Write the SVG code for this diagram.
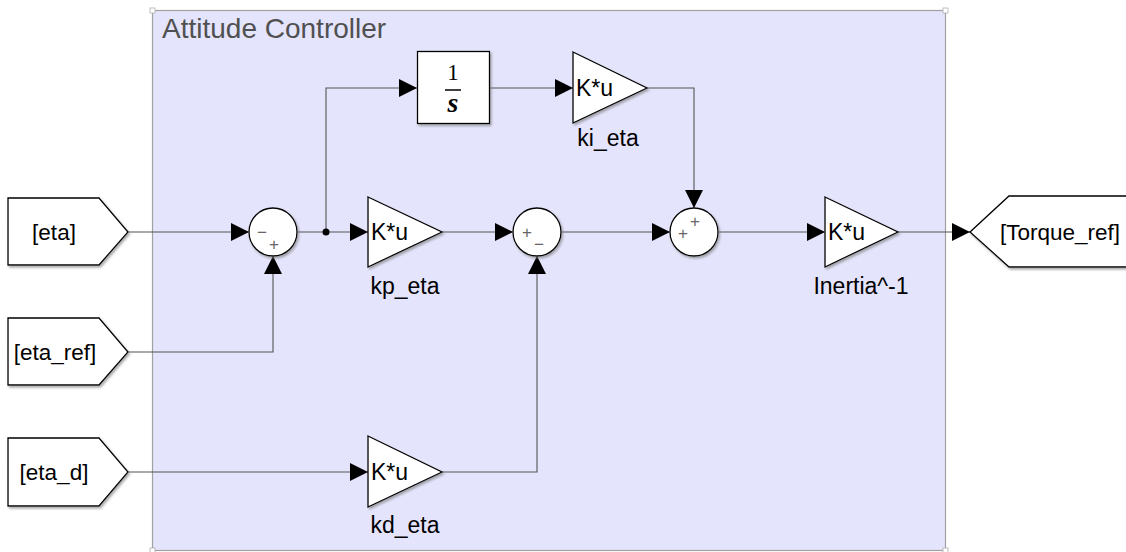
<svg xmlns="http://www.w3.org/2000/svg" width="1126" height="552" viewBox="0 0 1126 552">
<defs>
<style>
.area{fill:#E4E4FC;stroke:#A0A0A0;stroke-width:1.2}
.corner{fill:#fff;stroke:#B0B0B0;stroke-width:0.8}
.blk{fill:#fff;stroke:#000;stroke-width:1.3;filter:url(#sh)}
.wire{fill:none;stroke:#555;stroke-width:1.1;marker-end:url(#ah)}
.lbl{font-family:"Liberation Sans",Arial,sans-serif;font-size:23px;fill:#000}
.tag{font-family:"Liberation Sans",Arial,sans-serif;font-size:22.5px;fill:#000;text-anchor:middle}
.sign{font-family:"Liberation Sans",Arial,sans-serif;font-size:17px;fill:#666;text-anchor:middle}
.title{font-family:"Liberation Sans",Arial,sans-serif;font-size:28px;fill:#505050}
</style>
<filter id="sh" x="-10%" y="-10%" width="130%" height="130%">
<feDropShadow dx="1.5" dy="2" stdDeviation="1.2" flood-color="#777" flood-opacity="0.6"/>
</filter>
<marker id="ah" markerUnits="userSpaceOnUse" markerWidth="19" markerHeight="19" refX="18" refY="9" orient="auto">
<path d="M0,0 L18,9 L0,18 Z" fill="#000"/>
</marker>
</defs>

<g id="subsystem">
<rect class="area" x="152.5" y="10.5" width="793" height="540"/>
<rect class="corner" x="150" y="8" width="5" height="5"/>
<rect class="corner" x="943" y="8" width="5" height="5"/>
<rect class="corner" x="150" y="548" width="5" height="5"/>
<rect class="corner" x="943" y="548" width="5" height="5"/>
<text class="title" x="162" y="38">Attitude Controller</text>
</g>

<g id="connectors">
<path class="wire" d="M128,232 H249"/>
<path class="wire" d="M297,232 H368"/>
<path class="wire" d="M326,232 V88 H417"/>
<circle cx="326" cy="232" r="3.5" fill="#000"/>
<path class="wire" d="M489,88 H573"/>
<path class="wire" d="M647,88 H694 V208"/>
<path class="wire" d="M442,232 H513"/>
<path class="wire" d="M128,352 H273 V256"/>
<path class="wire" d="M128,472 H368"/>
<path class="wire" d="M442,472 H537 V256"/>
<path class="wire" d="M561,232 H670"/>
<path class="wire" d="M718,232 H825"/>
<path class="wire" d="M898,232 H970"/>
</g>

<g id="from_eta">
<polygon class="blk" points="8,198 99,198 128,232 99,265 8,265"/>
<text class="tag" x="54" y="240">[eta]</text>
</g>
<g id="from_eta_ref">
<polygon class="blk" points="8,318 99,318 128,352 99,385 8,385"/>
<text class="tag" x="55" y="360">[eta_ref]</text>
</g>
<g id="from_eta_d">
<polygon class="blk" points="8,438 99,438 128,472 99,506 8,506"/>
<text class="tag" x="54" y="480">[eta_d]</text>
</g>

<g id="sum1">
<circle class="blk" cx="273" cy="232" r="24"/>
<text class="sign" x="262" y="238">−</text>
<text class="sign" x="274" y="250">+</text>
</g>
<g id="sum2">
<circle class="blk" cx="537" cy="232" r="24"/>
<text class="sign" x="527" y="238">+</text>
<text class="sign" x="539" y="250">−</text>
</g>
<g id="sum3">
<circle class="blk" cx="694" cy="232" r="24"/>
<text class="sign" x="683" y="239">+</text>
<text class="sign" x="695" y="227">+</text>
</g>

<g id="integrator">
<rect class="blk" x="417.5" y="51.5" width="72" height="72"/>
<text x="453" y="80" font-family="Liberation Serif,serif" font-size="23" text-anchor="middle">1</text>
<line x1="445" y1="90" x2="461" y2="90" stroke="#000" stroke-width="1.5"/>
<text x="453" y="112" font-family="Liberation Serif,serif" font-size="28" font-weight="bold" font-style="italic" text-anchor="middle">s</text>
</g>

<g id="ki_eta">
<polygon class="blk" points="573,52 647,88 573,123"/>
<text class="lbl" x="576" y="96">K*u</text>
<text class="lbl" x="608" y="146" text-anchor="middle">ki_eta</text>
</g>
<g id="kp_eta">
<polygon class="blk" points="368,197 442,232 368,267"/>
<text class="lbl" x="371" y="240">K*u</text>
<text class="lbl" x="405" y="294" text-anchor="middle">kp_eta</text>
</g>
<g id="kd_eta">
<polygon class="blk" points="368,436 442,472 368,507"/>
<text class="lbl" x="371" y="480">K*u</text>
<text class="lbl" x="405" y="533" text-anchor="middle">kd_eta</text>
</g>
<g id="inertia_inv">
<polygon class="blk" points="825,197 898,232 825,267"/>
<text class="lbl" x="828" y="240">K*u</text>
<text class="lbl" x="861" y="294" text-anchor="middle">Inertia^-1</text>
</g>

<g id="goto_torque_ref">
<polygon class="blk" points="970,232 1009,196 1130,196 1130,267 1009,267"/>
<text class="tag" x="1060" y="240">[Torque_ref]</text>
</g>
</svg>
